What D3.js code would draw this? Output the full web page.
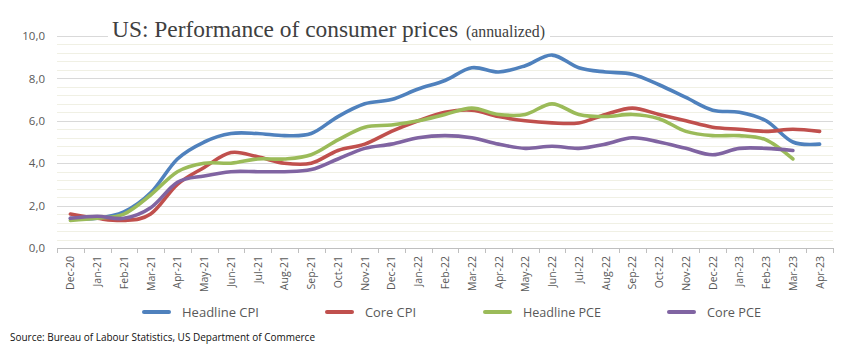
<!DOCTYPE html>
<html><head><meta charset="utf-8">
<script src="https://cdn.jsdelivr.net/npm/d3@7/dist/d3.min.js"></script>
<style>
html,body{margin:0;padding:0;background:#fff;}
svg{display:block;}
</style></head>
<body>
<svg id="c" width="848" height="359"></svg>
<script>
const categories = ["Dec-20","Jan-21","Feb-21","Mar-21","Apr-21","May-21","Jun-21","Jul-21","Aug-21","Sep-21","Oct-21","Nov-21","Dec-21","Jan-22","Feb-22","Mar-22","Apr-22","May-22","Jun-22","Jul-22","Aug-22","Sep-22","Oct-22","Nov-22","Dec-22","Jan-23","Feb-23","Mar-23","Apr-23"];
const headlineCPI = [1.4,1.4,1.7,2.6,4.2,5.0,5.4,5.4,5.3,5.4,6.2,6.8,7.0,7.5,7.9,8.5,8.3,8.6,9.1,8.5,8.3,8.2,7.7,7.1,6.5,6.4,6.0,5.0,4.9];
const coreCPI = [1.6,1.4,1.3,1.6,3.0,3.8,4.5,4.3,4.0,4.0,4.6,4.9,5.5,6.0,6.4,6.5,6.2,6.0,5.9,5.9,6.3,6.6,6.3,6.0,5.7,5.6,5.5,5.6,5.5];
const headlinePCE = [1.3,1.4,1.6,2.5,3.6,4.0,4.0,4.2,4.2,4.4,5.1,5.7,5.8,6.0,6.3,6.6,6.3,6.3,6.8,6.3,6.2,6.3,6.1,5.5,5.3,5.3,5.1,4.2];
const corePCE = [1.4,1.5,1.4,1.9,3.1,3.4,3.6,3.6,3.6,3.7,4.2,4.7,4.9,5.2,5.3,5.2,4.9,4.7,4.8,4.7,4.9,5.2,5.0,4.7,4.4,4.7,4.7,4.6];
const seriesNames = ["Headline CPI","Core CPI","Headline PCE","Core PCE"];
const seriesColors = ["#4F81BD","#C0504D","#9BBB59","#8064A2"];
const yTicks = [0,2,4,6,8,10];
const titleMain = "US: Performance of consumer prices";
const titleSub = "(annualized)";
const sourceText = "Source: Bureau of Labour Statistics, US Department of Commerce";

const seriesData = [headlineCPI, coreCPI, headlinePCE, corePCE];
const svg = d3.select("#c");
const L = 57, R = 833, T = 36, B = 248;
const x = d3.scaleBand().domain(categories).range([L, R]).paddingInner(0).paddingOuter(0);
const cx = c => x(c) + x.bandwidth()/2;
const y = d3.scaleLinear().domain([0,10]).range([B, T]);
const sans = "'Open Sans','Noto Sans',sans-serif";

// minor gridlines
const minor = d3.range(0, 10.001, 0.4).filter(v => Math.abs(v/2 - Math.round(v/2)) > 0.01);
svg.append("g").selectAll("line").data(minor).join("line")
  .attr("x1", L).attr("x2", R)
  .attr("y1", d => Math.round(y(d))+0.5).attr("y2", d => Math.round(y(d))+0.5)
  .attr("stroke", "#f0f0e4").attr("stroke-width", 1);
// major gridlines
svg.append("g").selectAll("line").data(yTicks.filter(d=>d>0)).join("line")
  .attr("x1", L).attr("x2", R)
  .attr("y1", d => Math.round(y(d))+0.5).attr("y2", d => Math.round(y(d))+0.5)
  .attr("stroke", "#d9d9d9").attr("stroke-width", 1);

// y labels
const yAxis = d3.axisLeft(y).tickValues(yTicks).tickSize(0).tickPadding(12)
  .tickFormat(d => d3.format(".1f")(d).replace(".", ","));
const gy = svg.append("g").attr("transform", `translate(${L},0)`).call(yAxis);
gy.select(".domain").remove();
gy.selectAll("text").attr("font-family", sans)
  .attr("font-size", 11.5).attr("fill", "#595959");

// x axis
svg.append("line").attr("x1", L).attr("x2", R).attr("y1", B+0.5).attr("y2", B+0.5)
  .attr("stroke", "#bfbfbf");
const bounds = d3.range(categories.length + 1).map(i => L + i * x.step());
svg.append("g").selectAll("line").data(bounds).join("line")
  .attr("x1", d => Math.round(d)+0.5).attr("x2", d => Math.round(d)+0.5)
  .attr("y1", B).attr("y2", B+5).attr("stroke", "#bfbfbf");
svg.append("g").selectAll("text").data(categories).join("text")
  .attr("transform", d => `translate(${cx(d)+4},${B+8}) rotate(-90)`)
  .attr("text-anchor", "end")
  .attr("font-family", sans)
  .attr("font-size", 10.5).attr("fill", "#595959")
  .text(d => d);

// title box
svg.append("rect").attr("x", 108).attr("y", 8).attr("width", 442).attr("height", 32).attr("fill", "#fff");
svg.append("text").attr("x", 112).attr("y", 36.5)
  .attr("font-family", "'Liberation Serif','DejaVu Serif',serif").attr("fill", "#404040")
  .attr("font-size", 23).attr("textLength", 346).attr("lengthAdjust", "spacingAndGlyphs")
  .text(titleMain);
svg.append("text").attr("x", 466).attr("y", 36.5)
  .attr("font-family", "'Liberation Serif','DejaVu Serif',serif").attr("fill", "#404040")
  .attr("font-size", 16).attr("textLength", 79).attr("lengthAdjust", "spacingAndGlyphs")
  .text(titleSub);

// lines
const line = d3.line().defined(d => d != null)
  .x((d,i) => cx(categories[i])).y(d => y(d))
  .curve(d3.curveCardinal.tension(0));
svg.append("g").selectAll("path").data(seriesData).join("path")
  .attr("d", d => line(d)).attr("fill", "none")
  .attr("stroke", (d,i) => seriesColors[i]).attr("stroke-width", 3.6)
  .attr("stroke-linejoin", "round").attr("stroke-linecap", "round");

// legend
const legX = [143, 326, 484, 668];
const legW = [77, 51, 78, 54];
const lg = svg.append("g").selectAll("g").data(seriesNames).join("g")
  .attr("transform", (d,i) => `translate(${legX[i]},312)`);
lg.append("line").attr("x1", 1).attr("x2", 26).attr("y1", 0).attr("y2", 0)
  .attr("stroke", (d,i) => seriesColors[i]).attr("stroke-width", 4).attr("stroke-linecap", "round");
lg.append("text").attr("x", 39).attr("y", 4.5)
  .attr("font-family", sans)
  .attr("font-size", 13).attr("fill", "#595959")
  .attr("textLength", (d,i) => legW[i]).attr("lengthAdjust", "spacingAndGlyphs")
  .text(d => d);

// source
svg.append("text").attr("x", 10).attr("y", 341)
  .attr("font-family", sans)
  .attr("font-size", 10).attr("fill", "#111")
  .attr("textLength", 305).attr("lengthAdjust", "spacingAndGlyphs")
  .text(sourceText);
</script>
</body></html>
